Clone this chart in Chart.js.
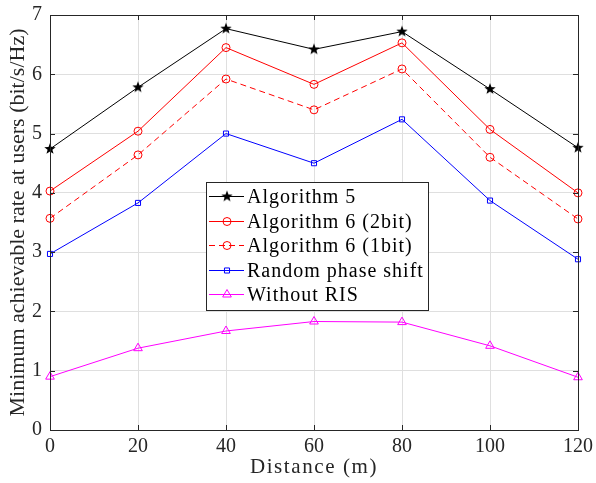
<!doctype html>
<html lang="en">
  <head>
    <meta charset="utf-8">
    <title>Minimum achievable rate vs distance</title>
    <script src="https://cdn.jsdelivr.net/npm/chart.js"></script>
    <style>
      body { margin: 0; background: #fff; }
      .wrap { width: 596px; height: 483px; position: relative; }
    </style>
  </head>
  <body>
    <div class="wrap"><canvas id="rateChart" width="596" height="483"></canvas></div>
    <script>
      // data
      const distances = [0, 20, 40, 60, 80, 100, 120];
      const xTicks = [0, 20, 40, 60, 80, 100, 120];
      const yTicks = [0, 1, 2, 3, 4, 5, 6, 7];
      const alg5 = [4.74, 5.78, 6.77, 6.42, 6.72, 5.75, 4.76];
      const alg6two = [4.03, 5.04, 6.45, 5.83, 6.53, 5.07, 4.00];
      const alg6one = [3.57, 4.64, 5.92, 5.40, 6.09, 4.60, 3.56];
      const randomPhase = [2.97, 3.83, 5.00, 4.50, 5.24, 3.87, 2.88];
      const withoutRis = [0.90, 1.38, 1.67, 1.83, 1.82, 1.42, 0.89];

      const serif = '"Liberation Serif", "DejaVu Serif", serif';

      // filled five-point star marker
      function starMarker(r, color) {
        const c = document.createElement('canvas');
        c.width = c.height = r * 2 + 2;
        const g = c.getContext('2d');
        g.fillStyle = color;
        g.beginPath();
        for (let i = 0; i < 10; i++) {
          const rr = i % 2 === 0 ? r : r * 0.42;
          const a = -Math.PI / 2 + i * Math.PI / 5;
          const px = r + 1 + rr * Math.cos(a), py = r + 1 + rr * Math.sin(a);
          i === 0 ? g.moveTo(px, py) : g.lineTo(px, py);
        }
        g.closePath();
        g.fill();
        return c;
      }
      const star = starMarker(6, '#000');

      function series(label, data, color, style, radius, dash) {
        return {
          label: label,
          data: data.map((v, i) => ({ x: distances[i], y: v })),
          borderColor: color,
          backgroundColor: 'rgba(0,0,0,0)',
          borderWidth: 1,
          borderDash: dash || [],
          pointStyle: style,
          pointRadius: radius,
          pointBorderColor: color,
          pointBackgroundColor: 'rgba(0,0,0,0)',
          pointBorderWidth: 1,
          clip: false,
          tension: 0
        };
      }

      const datasets = [
        series('Algorithm 5', alg5, '#000000', star, 6),
        series('Algorithm 6 (2bit)', alg6two, '#ff0000', 'circle', 4),
        series('Algorithm 6 (1bit)', alg6one, '#ff0000', 'circle', 4, [6, 4]),
        series('Random phase shift', randomPhase, '#0000ff', 'rect', 3.6),
        series('Without RIS', withoutRis, '#ff00ff', 'triangle', 5)
      ];

      // axes box with inward ticks, like the original figure
      const framePlugin = {
        id: 'frame',
        afterDatasetsDraw(chart) {
          const { ctx, chartArea: a, scales } = chart;
          ctx.save();
          ctx.strokeStyle = '#262626';
          ctx.lineWidth = 1;
          ctx.strokeRect(a.left + 0.5, a.top + 0.5, a.right - a.left, a.bottom - a.top);
          ctx.beginPath();
          xTicks.forEach(t => {
            const px = Math.round(scales.x.getPixelForValue(t)) + 0.5;
            ctx.moveTo(px, a.bottom); ctx.lineTo(px, a.bottom - 5);
            ctx.moveTo(px, a.top); ctx.lineTo(px, a.top + 5);
          });
          yTicks.forEach(t => {
            const py = Math.round(scales.y.getPixelForValue(t)) + 0.5;
            ctx.moveTo(a.left, py); ctx.lineTo(a.left + 5, py);
            ctx.moveTo(a.right, py); ctx.lineTo(a.right - 5, py);
          });
          ctx.stroke();
          // x axis title, spaced out to look like the LaTeX font
          ctx.fillStyle = '#262626';
          ctx.font = '21px ' + serif;
          ctx.letterSpacing = '1.6px';
          ctx.textAlign = 'center';
          ctx.textBaseline = 'middle';
          ctx.fillText('Distance (m)', (a.left + a.right) / 2, 467);
          ctx.restore();
        }
      };

      // legend box drawn inside the plot area
      const legendPlugin = {
        id: 'boxLegend',
        afterDraw(chart) {
          const { ctx, chartArea: a } = chart;
          const left = a.left + 156, top = a.top + 167, w = 222, h = 128;
          ctx.save();
          ctx.fillStyle = '#fff';
          ctx.fillRect(left, top, w, h);
          ctx.strokeStyle = '#262626';
          ctx.lineWidth = 1;
          ctx.strokeRect(left + 0.5, top + 0.5, w, h);
          ctx.font = '20px ' + serif;
          ctx.letterSpacing = '1px';
          ctx.textBaseline = 'middle';
          chart.data.datasets.forEach((ds, i) => {
            const y = Math.round(top + 14 + i * 24.5) + 0.5;
            ctx.strokeStyle = ds.borderColor;
            ctx.setLineDash(ds.borderDash);
            ctx.beginPath();
            ctx.moveTo(left + 3, y); ctx.lineTo(left + 38, y);
            ctx.stroke();
            ctx.setLineDash([]);
            ctx.fillStyle = 'rgba(0,0,0,0)';
            Chart.helpers.drawPoint(ctx, {
              pointStyle: ds.pointStyle, radius: ds.pointRadius, borderWidth: 1, rotation: 0
            }, left + 21, y);
            ctx.fillStyle = '#000';
            ctx.fillText(ds.label, left + 41, y + 1);
          });
          ctx.restore();
        }
      };

      new Chart(document.getElementById('rateChart'), {
        type: 'line',
        data: { datasets: datasets },
        plugins: [framePlugin, legendPlugin],
        options: {
          responsive: false,
          animation: false,
          layout: { padding: { top: 15, right: 18, left: 0, bottom: 0 } },
          plugins: { legend: { display: false }, tooltip: { enabled: false } },
          scales: {
            x: {
              type: 'linear',
              min: 0, max: 120,
              afterBuildTicks: s => { s.ticks = xTicks.map(v => ({ value: v })); },
              afterFit: s => { s.height = 53; s.paddingLeft = 0; s.paddingRight = 0; },
              grid: { color: '#dfdfdf', drawTicks: false },
              border: { display: false },
              ticks: { font: { family: serif, size: 20 }, color: '#262626', padding: 5, maxRotation: 0 }
            },
            y: {
              min: 0, max: 7,
              afterBuildTicks: s => { s.ticks = yTicks.map(v => ({ value: v })); },
              afterFit: s => { s.width = 50; s.paddingTop = 0; s.paddingBottom = 0; },
              grid: { color: '#dfdfdf', drawTicks: false },
              border: { display: false },
              ticks: { font: { family: serif, size: 20 }, color: '#262626', padding: 8 },
              title: { display: true, text: 'Minimum achievable rate at users (bit/s/Hz)', font: { family: serif, size: 22 }, color: '#262626', padding: { top: 5, bottom: 0 } }
            }
          }
        }
      });
    </script>
  </body>
</html>
